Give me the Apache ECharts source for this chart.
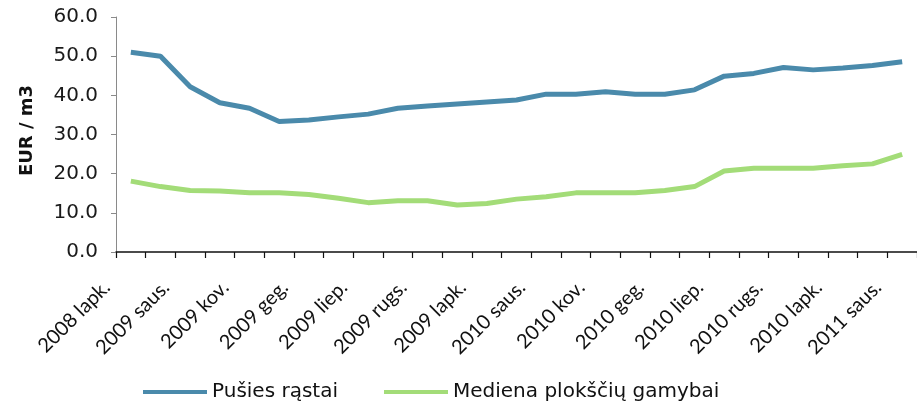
<!DOCTYPE html>
<html>
<head>
<meta charset="utf-8">
<script src="https://cdn.jsdelivr.net/npm/echarts@6/dist/echarts.min.js"></script>
<style>
html,body{margin:0;padding:0;background:#fff;}
#chart{width:917px;height:405px;}
</style>
</head>
<body>
<div id="chart"></div>
<script>
var categories = ['2008 lapk.','2008 gruod.','2009 saus.','2009 vas.','2009 kov.','2009 bal.','2009 geg.','2009 birž.','2009 liep.','2009 rugp.','2009 rugs.','2009 spal.','2009 lapk.','2009 gruod.','2010 saus.','2010 vas.','2010 kov.','2010 bal.','2010 geg.','2010 birž.','2010 liep.','2010 rugp.','2010 rugs.','2010 spal.','2010 lapk.','2010 gruod.','2011 saus.'];
var pusiesRastai = [51.0,50.0,42.2,38.1,36.7,33.3,33.7,34.5,35.2,36.7,37.3,37.8,38.3,38.8,40.3,40.3,40.9,40.3,40.3,41.4,44.9,45.6,47.1,46.5,47.0,47.6,48.6];
var medienaPlokSciu = [18.1,16.7,15.7,15.6,15.1,15.1,14.7,13.7,12.6,13.1,13.1,12.0,12.4,13.5,14.1,15.1,15.1,15.1,15.7,16.7,20.7,21.4,21.4,21.4,22.0,22.5,24.9];
var seriesNames = ['Pušies rąstai','Mediena plokščių gamybai'];
var yTicks = [0,10,20,30,40,50,60];

var chart = echarts.init(document.getElementById('chart'));
chart.setOption({
  animation: false,
  backgroundColor: '#fff',
  grid: {left: 116, top: 17, bottom: 153, width: 803},
  legend: {
    left: 143, top: 382, padding: 0,
    icon: 'rect',
    itemWidth: 64, itemHeight: 4, itemGap: 46,
    textStyle: {fontFamily: 'DejaVu Sans', fontSize: 20, color: '#111'},
    data: seriesNames
  },
  xAxis: {
    type: 'category',
    data: categories,
    boundaryGap: true,
    axisLine: {lineStyle: {color: '#111', width: 1.5}},
    axisTick: {show: true, interval: 0, length: 6, lineStyle: {color: '#111', width: 1.2}},
    axisLabel: {
      interval: 1, rotate: 45, margin: 8,
      padding: [0, 34, 0, 0],
      fontFamily: 'Lato', fontSize: 20, color: '#111'
    }
  },
  yAxis: {
    type: 'value',
    min: yTicks[0], max: yTicks[yTicks.length-1], interval: 10,
    name: 'EUR / m3',
    nameLocation: 'middle', nameGap: 80,
    nameTextStyle: {fontFamily: 'DejaVu Sans', fontWeight: 'bold', fontSize: 18, color: '#111', padding: [0, 0, 0, 8]},
    axisLine: {show: true, lineStyle: {color: '#8a8a8a', width: 1}},
    axisTick: {show: true, length: 5, lineStyle: {color: '#8a8a8a'}},
    splitLine: {show: false},
    axisLabel: {
      margin: 18,
      fontFamily: 'DejaVu Sans', fontSize: 20, color: '#1a1a1a',
      formatter: function (v) { return v.toFixed(1); }
    }
  },
  series: [
    {name: seriesNames[0], type: 'line', data: pusiesRastai, showSymbol: false, symbol: 'none',
     lineStyle: {color: '#4a8aab', width: 5}, itemStyle: {color: '#4a8aab'}},
    {name: seriesNames[1], type: 'line', data: medienaPlokSciu, showSymbol: false, symbol: 'none',
     lineStyle: {color: '#a3dc78', width: 5}, itemStyle: {color: '#a3dc78'}}
  ]
});
</script>
</body>
</html>
